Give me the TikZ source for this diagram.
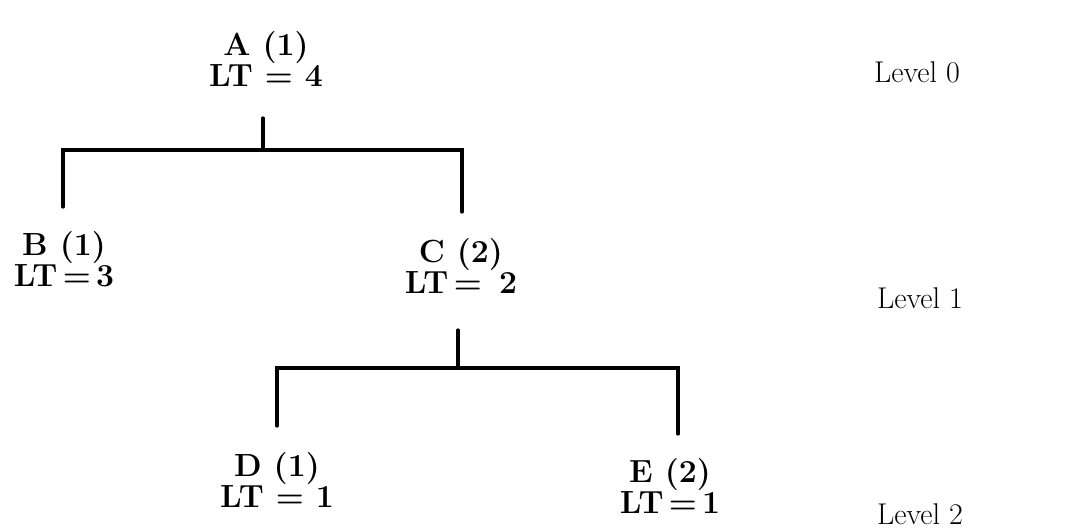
\documentclass[tikz,border=0pt]{standalone}
\begin{document}
\begin{tikzpicture}[x=1pt,y=-1pt,
  tnode/.style={align=center,inner sep=0pt,font=\fontsize{32}{31}\selectfont\bfseries},
  lvl/.style={inner sep=0pt,font=\fontsize{30}{30}\selectfont},
  conn/.style={line width=3.2pt,line cap=round}]
\useasboundingbox (0,0) rectangle (1078,531);
\node[tnode] (A) at (266,59) {A (1)\\LT = 4};
\node[tnode] (B) at (64,259) {B (1)\\LT\,=\,3};
\node[tnode] (C) at (461,266) {C\ (2)\\LT\,= \,2};
\node[tnode] (D) at (277,480) {D (1)\\LT = 1};
\node[tnode] (E) at (670,486) {E (2)\\LT\,=\,1};
\node[lvl] (L0) at (917,72) {Level 0};
\node[lvl] (L1) at (920,298) {Level 1};
\node[lvl] (L2) at (920,514) {Level 2};
\coordinate (jA) at (263,150);
\coordinate (jC) at (458,368);
\draw[conn] (263,118) -- (jA);
\draw[conn] (jA) -| (63,207);
\draw[conn] (jA) -| (462,212);
\draw[conn] (458,330) -- (jC);
\draw[conn] (jC) -| (277,426);
\draw[conn] (jC) -| (678,434);
\end{tikzpicture}
\end{document}
